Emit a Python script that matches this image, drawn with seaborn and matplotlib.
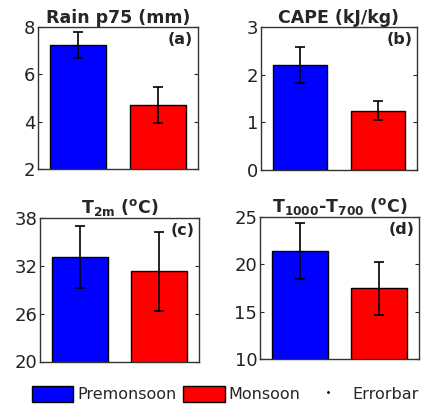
import matplotlib
matplotlib.use("Agg")
import matplotlib.pyplot as plt
from matplotlib.patches import Patch
from matplotlib.lines import Line2D
import seaborn as sns

seasons = ["Premonsoon", "Monsoon"]
colors = ["#0000ff", "#ff0000"]

rain = [7.25, 4.7]
rain_err = [0.55, 0.77]
cape = [2.2, 1.24]
cape_err = [0.37, 0.2]
t2m = [33.1, 31.3]
t2m_err = [3.85, 5.0]
dtemp = [21.4, 17.45]
dtemp_err = [2.95, 2.8]

titles = [r"Rain p75 (mm)", r"CAPE (kJ/kg)",
          r"T$_{\mathbf{2m}}$ ($^{\mathbf{o}}$C)",
          r"T$_{\mathbf{1000}}$-T$_{\mathbf{700}}$ ($^{\mathbf{o}}$C)"]
labels = ["(a)", "(b)", "(c)", "(d)"]
ylims = [(2, 8), (0, 3), (20, 38), (10, 25)]
yticks = [[2, 4, 6, 8], [0, 1, 2, 3], [20, 26, 32, 38], [10, 15, 20, 25]]

sns.set_style("white")
plt.rcParams["font.family"] = ["DejaVu Sans"]
plt.rcParams["mathtext.fontset"] = "dejavusans"

W, H = 426, 407
fig = plt.figure(figsize=(W / 100, H / 100), dpi=100)

# axes boxes in pixels: left, top, right, bottom
boxes = [(38, 27, 198, 169), (261, 27, 417, 170),
         (40, 218, 199, 361.5), (260, 216.7, 419, 359.3)]

data = [(rain, rain_err), (cape, cape_err), (t2m, t2m_err), (dtemp, dtemp_err)]

for i, (vals, errs) in enumerate(data):
    l, t, r, b = boxes[i]
    ax = fig.add_axes([l / W, 1 - b / H, (r - l) / W, (b - t) / H])
    sns.barplot(x=seasons, y=vals, hue=seasons, palette=colors, width=0.7,
                edgecolor="black", linewidth=1, errorbar=None, legend=False,
                saturation=1, ax=ax)
    ax.errorbar([0, 1], vals, yerr=errs, fmt="none", ecolor="black",
                elinewidth=1.2, capsize=3.5, capthick=1.2)
    ax.set_xlim(-0.5, 1.5)
    ax.set_ylim(*ylims[i])
    ax.set_yticks(yticks[i])
    ax.set_xticks([])
    ax.set_xlabel("")
    ax.set_ylabel("")
    ax.tick_params(axis="y", direction="in", length=3, labelsize=13,
                   right=True, left=True, labelcolor="#222222", pad=2)
    for s in ax.spines.values():
        s.set_visible(True)
        s.set_color("#333333")
        s.set_linewidth(1)
    ax.set_title(titles[i], fontsize=12.5, fontweight="bold", pad=3)
    ax.text(0.97, 0.965, labels[i], transform=ax.transAxes, ha="right",
            va="top", fontsize=11.5, fontweight="bold")

handles = [Patch(facecolor=colors[0], edgecolor="black"),
           Patch(facecolor=colors[1], edgecolor="black"),
           Line2D([], [], marker=".", markersize=2, color="black", linestyle="none")]
fig.legend(handles, ["Premonsoon", "Monsoon", "Errorbar"], loc="lower left",
           bbox_to_anchor=(0.075, 0.012), ncol=3, frameon=False, fontsize=11.5,
           handlelength=2.6, handleheight=1.15, handletextpad=0.25,
           columnspacing=0.4, borderpad=0, borderaxespad=0)

fig.savefig("out.png", dpi=100)
